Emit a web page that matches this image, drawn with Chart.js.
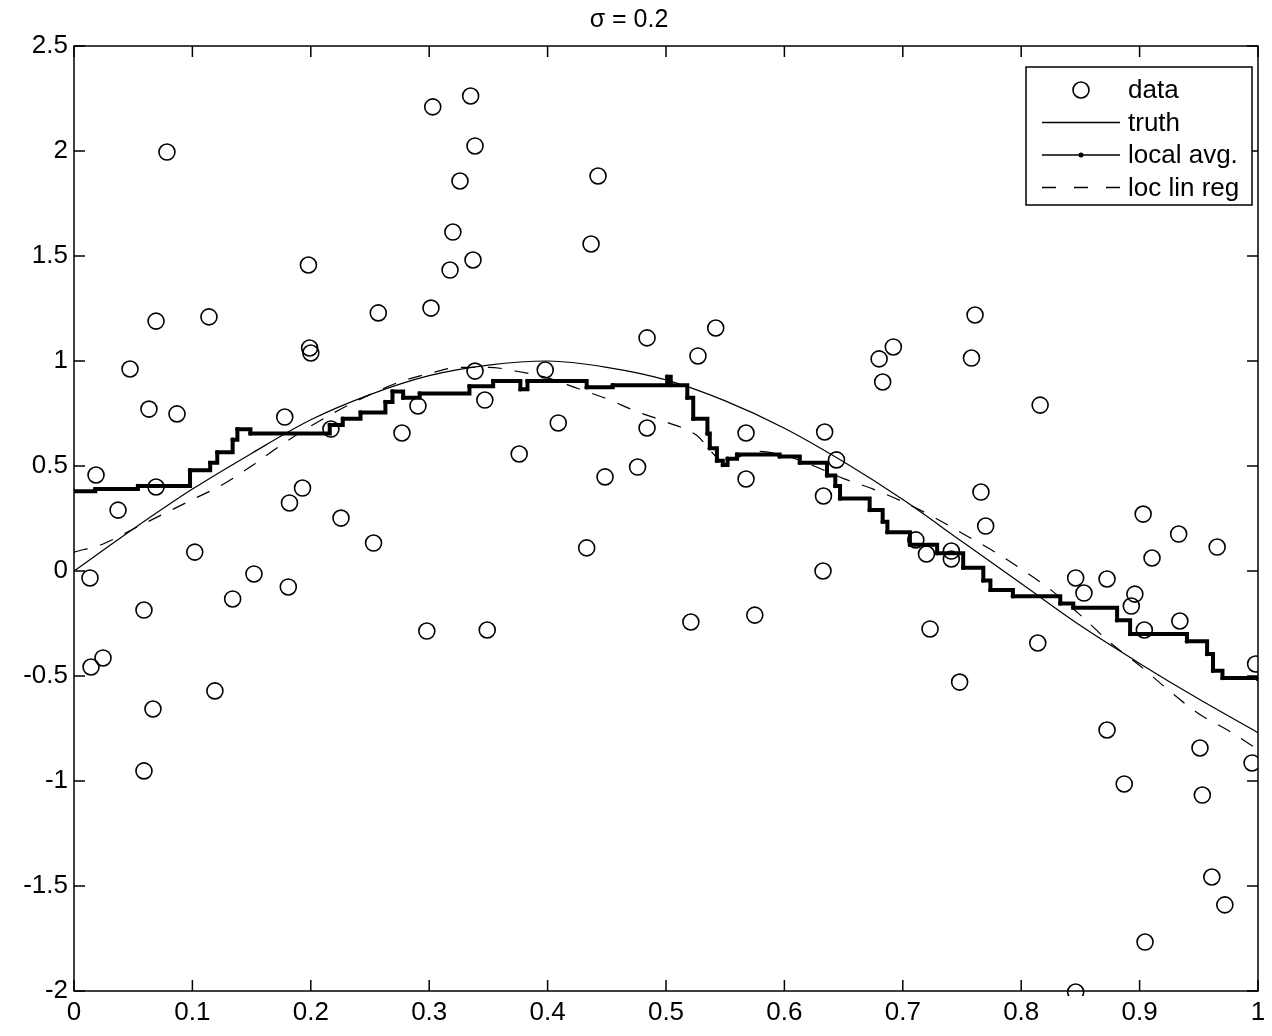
<!DOCTYPE html>
<html>
<head>
<meta charset="utf-8">
<title>σ = 0.2</title>
<script src="https://cdn.jsdelivr.net/npm/chart.js@4.4.1/dist/chart.umd.min.js"></script>
<style>
  html, body { margin: 0; padding: 0; background: #fff; }
  canvas { display: block; }
</style>
</head>
<body>
<canvas id="plot" width="1272" height="1036"></canvas>
<script>
// noisy samples
const dataX = [0.0135, 0.0186, 0.0144, 0.0245, 0.0372, 0.0473, 0.0591, 0.0591, 0.0633, 0.0667,
  0.0693, 0.0693, 0.0785, 0.087, 0.102, 0.114, 0.119, 0.134, 0.152, 0.178,
  0.181, 0.182, 0.193, 0.198, 0.199, 0.2, 0.217, 0.2255, 0.253, 0.257,
  0.277, 0.2905, 0.298, 0.3015, 0.303, 0.3176, 0.32, 0.326, 0.335, 0.337,
  0.3387, 0.3387, 0.347, 0.349, 0.376, 0.398, 0.409, 0.433, 0.4367, 0.4426,
  0.4485, 0.476, 0.484, 0.484, 0.521, 0.527, 0.542, 0.5676, 0.5676, 0.575,
  0.633, 0.6326, 0.634, 0.644, 0.68, 0.683, 0.692, 0.711, 0.72, 0.723,
  0.741, 0.741, 0.748, 0.758, 0.761, 0.766, 0.77, 0.814, 0.816, 0.846,
  0.846, 0.853, 0.8725, 0.8725, 0.887, 0.893, 0.896, 0.903, 0.904, 0.9046,
  0.9105, 0.934, 0.933, 0.951, 0.953, 0.961, 0.9655, 0.972, 0.995, 0.998]
const dataY = [-0.033, 0.457, -0.457, -0.414, 0.29, 0.962, -0.186, -0.952, 0.771, -0.657,
  0.4, 1.19, 1.995, 0.748, 0.09, 1.21, -0.571, -0.133, -0.014, 0.733,
  -0.076, 0.324, 0.395, 1.457, 1.062, 1.038, 0.676, 0.252, 0.133, 1.229,
  0.657, 0.786, -0.286, 1.252, 2.21, 1.433, 1.614, 1.857, 2.262, 1.481,
  2.024, 0.952, 0.814, -0.281, 0.557, 0.957, 0.705, 0.11, 1.557, 1.881,
  0.448, 0.495, 1.11, 0.681, -0.243, 1.024, 1.157, 0.438, 0.657, -0.21,
  0.357, 0, 0.662, 0.529, 1.01, 0.9, 1.067, 0.148, 0.081, -0.276,
  0.095, 0.057, -0.529, 1.014, 1.219, 0.376, 0.214, -0.343, 0.79, -0.033,
  -2.005, -0.105, -0.757, -0.038, -1.014, -0.167, -0.11, 0.271, -0.281, -1.767,
  0.062, -0.238, 0.176, -0.843, -1.067, -1.457, 0.114, -1.59, -0.914, -0.443]

// true curve
const truthX = [0, 0.05, 0.1, 0.15, 0.2, 0.25, 0.3, 0.35, 0.4, 0.45, 0.5,
  0.55, 0.6, 0.65, 0.7, 0.75, 0.8, 0.85, 0.9, 0.95, 1]
const truthY = [0, 0.2, 0.39, 0.56, 0.72, 0.84, 0.93, 0.98, 1.0, 0.97, 0.91,
  0.81, 0.68, 0.52, 0.34, 0.14, -0.06, -0.26, -0.44, -0.61, -0.77]

// local average (level starts)
const avgX = [0, 0.018, 0.054, 0.098, 0.115, 0.121, 0.134, 0.138, 0.149, 0.216,
  0.227, 0.242, 0.263, 0.269, 0.278, 0.292, 0.334, 0.354, 0.377, 0.383,
  0.433, 0.455, 0.501, 0.504, 0.518, 0.523, 0.535, 0.537, 0.543, 0.548,
  0.552, 0.56, 0.596, 0.613, 0.636, 0.643, 0.647, 0.672, 0.683, 0.687,
  0.706, 0.729, 0.751, 0.768, 0.774, 0.793, 0.833, 0.844, 0.881, 0.892,
  0.94, 0.957, 0.962, 0.97, 1]
const avgY = [0.38, 0.39, 0.405, 0.48, 0.515, 0.565, 0.625, 0.675, 0.655, 0.695,
  0.725, 0.755, 0.805, 0.855, 0.825, 0.845, 0.88, 0.905, 0.865, 0.905,
  0.875, 0.885, 0.925, 0.885, 0.825, 0.725, 0.655, 0.585, 0.525, 0.505,
  0.535, 0.555, 0.545, 0.515, 0.455, 0.405, 0.345, 0.29, 0.235, 0.185,
  0.125, 0.085, 0.015, -0.045, -0.09, -0.12, -0.155, -0.175, -0.235, -0.3,
  -0.335, -0.395, -0.475, -0.51, -0.515]

// local linear regression
const linX = [0, 0.025, 0.05, 0.075, 0.1, 0.125, 0.15, 0.175, 0.2, 0.225,
  0.25, 0.275, 0.3, 0.325, 0.35, 0.375, 0.4, 0.425, 0.45, 0.475,
  0.5, 0.525, 0.55, 0.575, 0.6, 0.625, 0.65, 0.675, 0.7, 0.725,
  0.75, 0.775, 0.8, 0.825, 0.85, 0.875, 0.9, 0.925, 0.95, 0.975, 1]
const linY = [0.09, 0.13, 0.2, 0.27, 0.34, 0.41, 0.5, 0.6, 0.69, 0.77,
  0.84, 0.9, 0.94, 0.97, 0.97, 0.95, 0.92, 0.87, 0.82, 0.76,
  0.71, 0.65, 0.52, 0.57, 0.55, 0.5, 0.44, 0.39, 0.33, 0.26,
  0.18, 0.1, 0.01, -0.09, -0.21, -0.34, -0.45, -0.57, -0.68, -0.76, -0.85]

const xTicks = [0, 0.1, 0.2, 0.3, 0.4, 0.5, 0.6, 0.7, 0.8, 0.9, 1]
const xTickLabels = ['0', '0.1', '0.2', '0.3', '0.4', '0.5', '0.6', '0.7', '0.8', '0.9', '1']
const yTicks = [-2, -1.5, -1, -0.5, 0, 0.5, 1, 1.5, 2, 2.5]
const yTickLabels = ['-2', '-1.5', '-1', '-0.5', '0', '0.5', '1', '1.5', '2', '2.5']

const FONT = '"Liberation Sans", Arial, Helvetica, sans-serif'

const pts = (xs, ys) => xs.map((x, i) => ({x: x, y: ys[i]}))

// axes box with inward ticks, matlab style
const frame = {
  id: 'frame',
  afterDatasetsDraw(chart) {
    const {ctx, chartArea: a, scales} = chart
    const t = 11
    ctx.save()
    ctx.strokeStyle = '#000'
    ctx.lineWidth = 1.5
    ctx.beginPath()
    xTicks.forEach(v => {
      const px = scales.x.getPixelForValue(v)
      ctx.moveTo(px, a.bottom); ctx.lineTo(px, a.bottom - t)
      ctx.moveTo(px, a.top); ctx.lineTo(px, a.top + t)
    })
    yTicks.forEach(v => {
      const py = scales.y.getPixelForValue(v)
      ctx.moveTo(a.left, py); ctx.lineTo(a.left + t, py)
      ctx.moveTo(a.right, py); ctx.lineTo(a.right - t, py)
    })
    ctx.stroke()
    ctx.strokeRect(a.left, a.top, a.right - a.left, a.bottom - a.top)
    ctx.restore()
  }
}

// boxed legend in the top right corner
const boxLegend = {
  id: 'boxLegend',
  afterDraw(chart) {
    const {ctx, chartArea: a} = chart
    const sets = chart.data.datasets
    const w = 226, h = 138
    const left = a.right - 6 - w, top = a.top + 21
    ctx.save()
    ctx.fillStyle = '#fff'
    ctx.fillRect(left, top, w, h)
    ctx.strokeStyle = '#000'
    ctx.lineWidth = 1.5
    ctx.strokeRect(left, top, w, h)
    ctx.font = '26px ' + FONT
    ctx.textBaseline = 'middle'
    ctx.fillStyle = '#000'
    const x0 = left + 16, x1 = left + 94, xm = (x0 + x1) / 2
    sets.forEach((ds, i) => {
      const y = top + 23 + i * 32.5
      ctx.lineWidth = 1.3
      ctx.setLineDash(ds.borderDash ? [14, 18] : [])
      if (ds.showLine) {
        ctx.beginPath(); ctx.moveTo(x0, y); ctx.lineTo(x1, y); ctx.stroke()
      }
      ctx.setLineDash([])
      if (ds.pointRadius > 0) {
        ctx.beginPath()
        if (ds.showLine) {
          ctx.arc(xm, y, 2.5, 0, Math.PI * 2); ctx.fill()
        } else {
          ctx.lineWidth = 1.6
          ctx.arc(xm, y, ds.pointRadius, 0, Math.PI * 2); ctx.stroke()
        }
      }
      ctx.fillText(ds.label, left + 102, y + 1)
    })
    ctx.restore()
  }
}

new Chart(document.getElementById('plot'), {
  type: 'scatter',
  data: {
    datasets: [
      {
        label: 'data',
        data: pts(dataX, dataY),
        showLine: false,
        clip: {left: 8, top: 8, right: 0, bottom: 5},
        pointStyle: 'circle',
        pointRadius: 8,
        pointHoverRadius: 8,
        borderWidth: 1.6,
        borderColor: '#000',
        backgroundColor: 'rgba(0,0,0,0)'
      },
      {
        label: 'truth',
        data: pts(truthX, truthY),
        showLine: true,
        cubicInterpolationMode: 'monotone',
        pointRadius: 0,
        borderWidth: 1.2,
        borderColor: '#000'
      },
      {
        label: 'local avg.',
        data: pts(avgX, avgY),
        showLine: true,
        stepped: 'before',
        pointRadius: 2.2,
        pointBorderWidth: 0,
        pointBackgroundColor: '#000',
        backgroundColor: '#000',
        borderWidth: 4,
        borderColor: '#000'
      },
      {
        label: 'loc lin reg',
        data: pts(linX, linY),
        showLine: true,
        cubicInterpolationMode: 'monotone',
        pointRadius: 0,
        borderWidth: 1.2,
        borderDash: [14, 13],
        borderColor: '#000'
      }
    ]
  },
  options: {
    responsive: false,
    animation: false,
    layout: {padding: {top: 0, right: 14, bottom: 0, left: 0}},
    scales: {
      x: {
        type: 'linear',
        min: 0,
        max: 1,
        grid: {display: false, drawTicks: false},
        border: {display: false},
        afterBuildTicks: s => { s.ticks = xTicks.map(v => ({value: v})) },
        afterFit: s => { s.height = 45 },
        ticks: {
          color: '#000',
          padding: 6,
          maxRotation: 0,
          autoSkip: false,
          font: {family: FONT, size: 26},
          callback: (v, i) => xTickLabels[i]
        }
      },
      y: {
        type: 'linear',
        min: -2,
        max: 2.5,
        grid: {display: false, drawTicks: false},
        border: {display: false},
        afterBuildTicks: s => { s.ticks = yTicks.map(v => ({value: v})) },
        afterFit: s => { s.width = 74 },
        ticks: {
          color: '#000',
          padding: 6,
          autoSkip: false,
          font: {family: FONT, size: 26},
          callback: (v, i) => yTickLabels[i]
        }
      }
    },
    plugins: {
      legend: {display: false},
      tooltip: {enabled: false},
      title: {
        display: true,
        text: 'σ = 0.2',
        color: '#000',
        font: {family: FONT, size: 25, weight: 'normal', lineHeight: 1.2},
        padding: {top: 5, bottom: 11}
      }
    }
  },
  plugins: [frame, boxLegend]
})
</script>
</body>
</html>
